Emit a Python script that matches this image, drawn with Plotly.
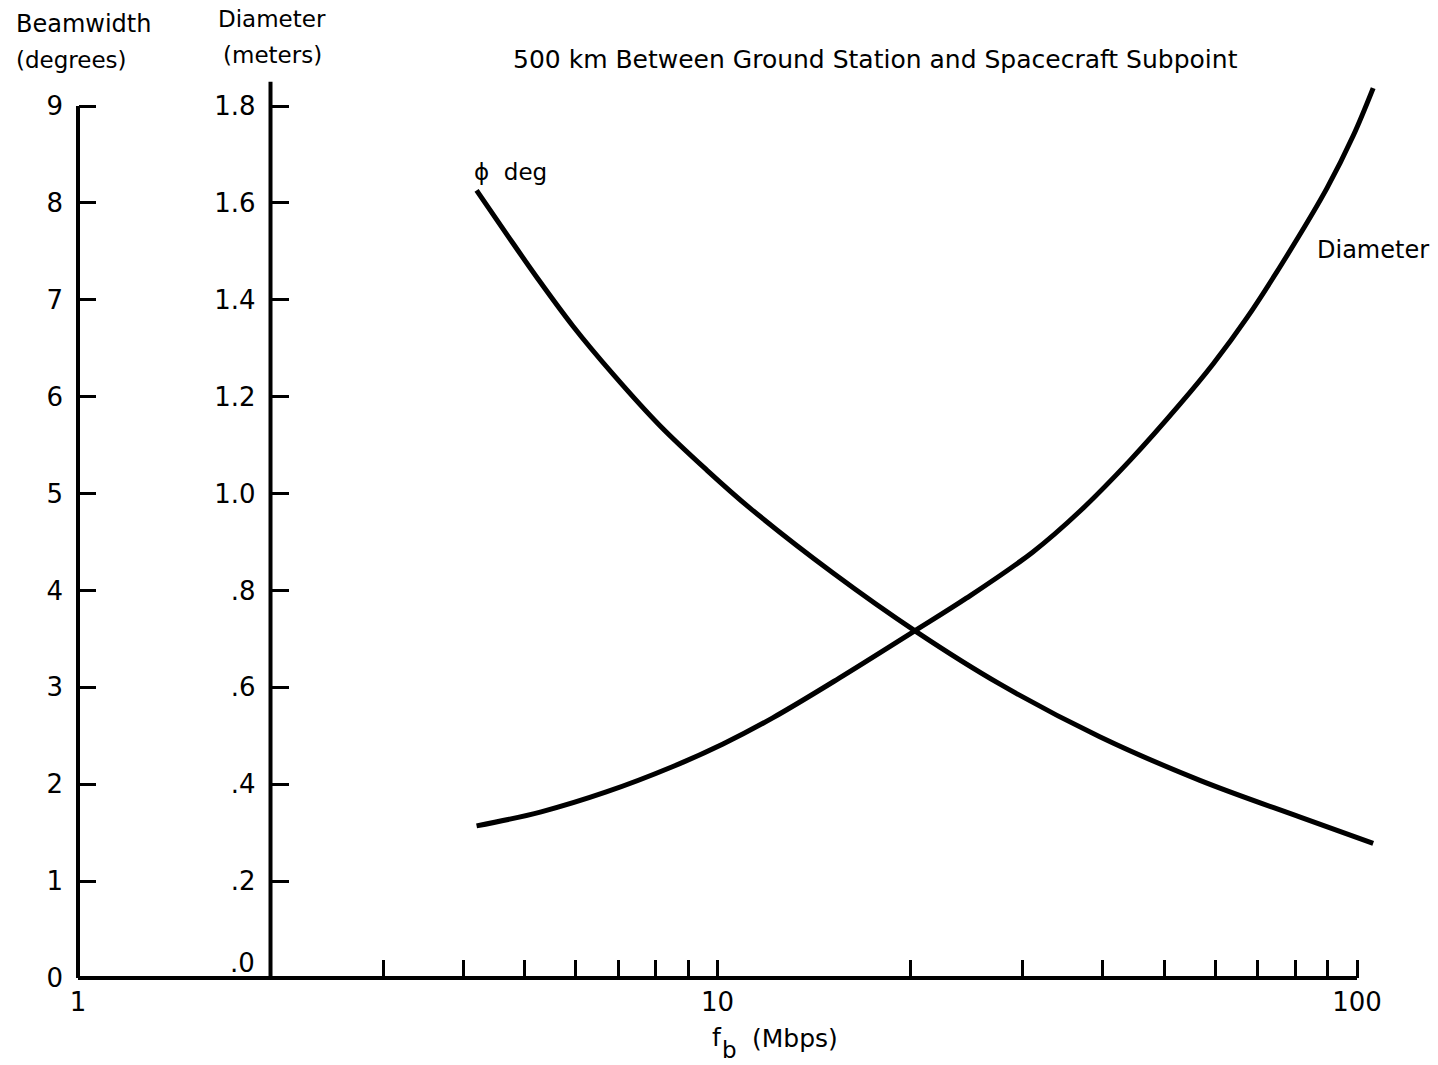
import math
import plotly.graph_objects as go

# ---- data -------------------------------------------------------------
# Beamwidth (phi, degrees) versus bit rate f_b (Mbps)
phi_fb = [4.2, 4.7, 5.22, 5.94, 6.87, 8.13, 9.63, 11.24, 15.16, 20.5, 27.7, 39.6, 56.8, 81.5, 106]
phi_deg = [8.13, 7.66, 7.23, 6.73, 6.23, 5.70, 5.24, 4.85, 4.18, 3.57, 3.03, 2.49, 2.04, 1.66, 1.39]

# Antenna diameter (meters) versus bit rate f_b (Mbps)
dia_fb = [4.2, 5.3, 6.7, 8.5, 10.2, 12.2, 15.5, 20.2, 24.5, 31.1, 36.9, 44.2, 52.9,
          59.6, 67.3, 77.7, 89.8, 98.6, 106]
dia_m = [0.314, 0.343, 0.384, 0.436, 0.483, 0.537, 0.619, 0.714, 0.784, 0.879, 0.964,
         1.069, 1.185, 1.268, 1.363, 1.491, 1.631, 1.738, 1.837]

# axis ticks
x_tickvals = [1, 2, 3, 4, 5, 6, 7, 8, 9, 10, 20, 30, 40, 50, 60, 70, 80, 90, 100]
x_ticktext = ["1", "", "", "", "", "", "", "", "", "10", "", "", "", "", "", "", "", "", "100"]
beam_tickvals = [0, 1, 2, 3, 4, 5, 6, 7, 8, 9]
beam_ticktext = ["0", "1", "2", "3", "4", "5", "6", "7", "8", "9"]
dia_tickvals = [0.2, 0.4, 0.6, 0.8, 1.0, 1.2, 1.4, 1.6, 1.8]
dia_ticktext = [".2", ".4", ".6", ".8", "1.0", "1.2", "1.4", "1.6", "1.8"]

# ---- geometry ---------------------------------------------------------
W, H = 1438, 1065
PL, PR, PT, PB = 60, 1390, 76, 995          # plot area in pixels
X1_PX, DECADE_PX = 78, 639.5                  # pixel of f_b = 1, pixels per decade
Y0_PX, UNIT_PX = 978, 96.889                  # pixel of beamwidth 0, pixels per degree
DIA_SCALE = 5.0                               # degrees per meter on the shared vertical scale
DIA_AXIS_X = 2                                # f_b where the diameter axis stands

x_range = [(PL - X1_PX) / DECADE_PX, (PR - X1_PX) / DECADE_PX]
y_range = [(Y0_PX - PB) / UNIT_PX, (Y0_PX - PT) / UNIT_PX]
y2_range = [v / DIA_SCALE for v in y_range]


def paper_x(px):
    return (px - PL) / (PR - PL)


def paper_y(py):
    return (PB - py) / (PB - PT)


dia_axis_px = X1_PX + math.log10(DIA_AXIS_X) * DECADE_PX

FONT = "DejaVu Sans"
INK = "black"

fig = go.Figure()

# axis lines
fig.add_trace(go.Scatter(x=[1, 100], y=[0, 0], mode="lines",
                         line=dict(color=INK, width=4), hoverinfo="skip", showlegend=False))
fig.add_trace(go.Scatter(x=[1, 1], y=[0, 9], mode="lines",
                         line=dict(color=INK, width=4), hoverinfo="skip", showlegend=False))
fig.add_trace(go.Scatter(x=[DIA_AXIS_X, DIA_AXIS_X], y=[0, 1.85], yaxis="y2", mode="lines",
                         line=dict(color=INK, width=4), hoverinfo="skip", showlegend=False))

# curves
fig.add_trace(go.Scatter(x=phi_fb, y=phi_deg, mode="lines", name="phi deg",
                         line=dict(color=INK, width=5, shape="spline", smoothing=1.0),
                         showlegend=False))
fig.add_trace(go.Scatter(x=dia_fb, y=dia_m, yaxis="y2", mode="lines", name="Diameter",
                         line=dict(color=INK, width=5, shape="spline", smoothing=1.0),
                         showlegend=False))

tickfont = dict(family=FONT, size=26, color=INK)

fig.update_layout(
    width=W, height=H,
    margin=dict(l=PL, r=W - PR, t=PT, b=H - PB, pad=0),
    paper_bgcolor="white", plot_bgcolor="white",
    showlegend=False,
    xaxis=dict(type="log", range=x_range, anchor="free", position=paper_y(Y0_PX),
               showgrid=False, zeroline=False, showline=False,
               tickmode="array", tickvals=x_tickvals, ticktext=x_ticktext,
               ticks="inside", ticklen=18, tickwidth=3, tickcolor=INK,
               ticklabelstandoff=6, tickfont=tickfont),
    yaxis=dict(range=y_range, anchor="free", position=paper_x(X1_PX), side="left",
               showgrid=False, zeroline=False, showline=False,
               tickmode="array", tickvals=beam_tickvals, ticktext=beam_ticktext,
               ticks="inside", ticklen=17, tickwidth=3, tickcolor=INK,
               ticklabelstandoff=15, tickfont=tickfont),
    yaxis2=dict(range=y2_range, overlaying="y", anchor="free", position=paper_x(dia_axis_px),
                side="left", showgrid=False, zeroline=False, showline=False,
                tickmode="array", tickvals=dia_tickvals, ticktext=dia_ticktext,
                ticks="inside", ticklen=17, tickwidth=3, tickcolor=INK,
                ticklabelstandoff=15, tickfont=tickfont),
)


def label(text, px, py, xanchor="center", size=23):
    fig.add_annotation(text=text, xref="paper", yref="paper", x=paper_x(px), y=paper_y(py),
                       xanchor=xanchor, yanchor="middle", showarrow=False,
                       font=dict(family=FONT, size=size, color=INK))


label("Beamwidth", 14, 24, "left", 24)
label("(degrees)", 14, 60, "left", 23)
label("Diameter", 272, 19, "center", 23)
label("(meters)", 272, 55, "center", 23)
label("500 km Between Ground Station and Spacecraft Subpoint", 875, 60, "center", 25)
label("ϕ  deg", 472, 172, "left", 23)
label("Diameter", 1315, 250, "left", 24)
label("f", 710, 1037, "left", 25)
label("b", 720, 1050, "left", 23)
label("(Mbps)", 750, 1038, "left", 25)
label(".0", 257, 963, "right", 26)

fig.write_html("out.html")
